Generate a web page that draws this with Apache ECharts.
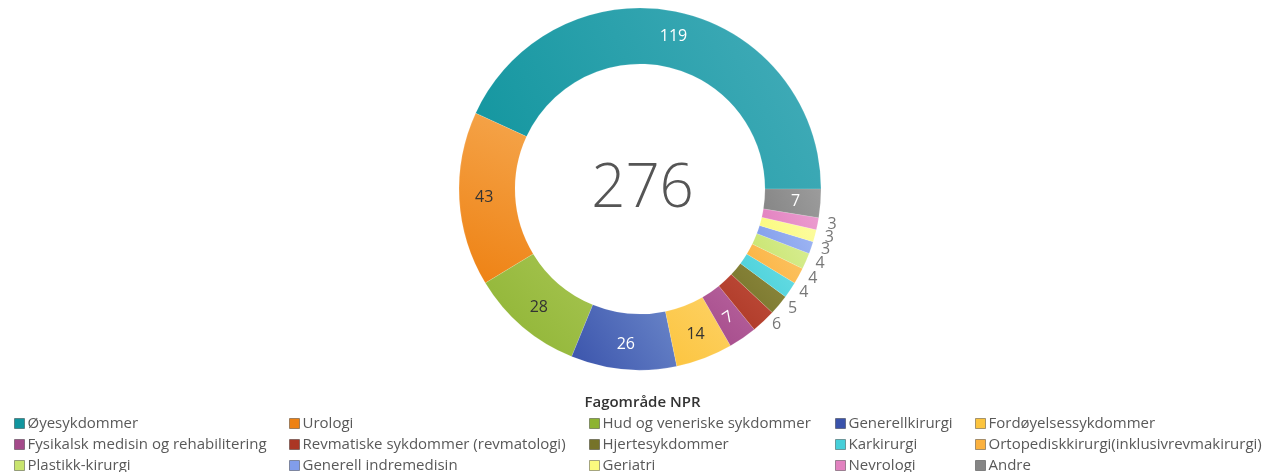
<!DOCTYPE html>
<html><head><meta charset="utf-8">
<script src="https://cdn.jsdelivr.net/npm/echarts@6/dist/echarts.min.js"></script>
<style>html,body{margin:0;padding:0;background:#fff}#c{width:1285px;height:472px}</style>
</head><body><div id="c"></div>
<script>
const categories = ["Øyesykdommer","Urologi","Hud og veneriske sykdommer","Generellkirurgi","Fordøyelsessykdommer","Fysikalsk medisin og rehabilitering","Revmatiske sykdommer (revmatologi)","Hjertesykdommer","Karkirurgi","Ortopediskkirurgi(inklusivrevmakirurgi)","Plastikk-kirurgi","Generell indremedisin","Geriatri","Nevrologi","Andre"];
const values = [119,43,28,26,14,7,6,5,4,4,4,3,3,3,7];
const colorsDark = ["#11959e","#ee8112","#8db332","#3a53ab","#fcc43e","#a44a8a","#ab3624","#767329","#46cfd9","#fbb13e","#c8e46e","#819deb","#fbfa7e","#e282c0","#858585"];
const colorsLight = ["#45adba","#f5a64d","#a7c552","#6a86c9","#fdd266","#b8649e","#c04e3c","#8e8a40","#6adde4","#fcc566","#d8ee94","#9fb6f3","#fcfca0","#ec9dd0","#9c9c9c"];
const labelColors = ["#fff","#333","#333","#fff","#333","#fff","#777","#777","#777","#777","#777","#777","#777","#777","#fff"];
const total = 276;
const legendColumns = [
  ["Øyesykdommer","Fysikalsk medisin og rehabilitering","Plastikk-kirurgi"],
  ["Urologi","Revmatiske sykdommer (revmatologi)","Generell indremedisin"],
  ["Hud og veneriske sykdommer","Hjertesykdommer","Geriatri"],
  ["Generellkirurgi","Karkirurgi","Nevrologi"],
  ["Fordøyelsessykdommer","Ortopediskkirurgi(inklusivrevmakirurgi)","Andre"]
];
const legendTitle = "Fagområde NPR";

const chart = echarts.init(document.getElementById('c'), null, {renderer:'canvas'});
const font = "'Open Sans', 'Noto Sans', sans-serif";
const legendLefts = [14, 289, 589, 835, 975];

const data = categories.map((name, i) => {
  const inside = values[i] >= 7;
  const d = {
    name, value: values[i],
    itemStyle: {
      color: new echarts.graphic.LinearGradient(0, 1, 1, 0, [
        {offset: 0, color: colorsDark[i]}, {offset: 1, color: colorsLight[i]}
      ]),
      borderColor: 'rgba(255,255,255,0.25)', borderWidth: 0.5
    },
    label: {
      position: inside ? 'inside' : 'outside',
      color: labelColors[i],
      fontSize: 16
    },
    labelLine: {show: false, length: 5, length2: 0}
  };
  if (name === "Fysikalsk medisin og rehabilitering") d.label.rotate = 'tangential';
  return d;
});

const legends = legendColumns.map((col, k) => ({
  orient: 'vertical',
  left: legendLefts[k],
  top: 416,
  height: 60,
  data: col.map(n => ({name: n, itemStyle: {color: colorsDark[categories.indexOf(n)], borderColor: 'rgba(0,0,0,0.35)', borderWidth: 1}})),
  icon: 'rect',
  itemWidth: 10,
  itemHeight: 10,
  itemGap: 6,
  selectedMode: false,
  textStyle: {fontFamily: font, fontSize: 15, color: '#595959', lineHeight: 14, padding: [0,0,0,-2]},
  padding: 0
}));

chart.setOption({
  color: colorsDark,
  animation: false,
  title: [
    {text: legendTitle, left: 'center', top: 395, padding: 0,
     textStyle: {fontFamily: font, fontSize: 15, fontWeight: 600, color: '#333'}},
    {text: String(total), left: 'center', top: 160, padding: 0,
     textStyle: {fontFamily: font, fontSize: 60, fontWeight: 300, color: '#555'}}
  ],
  legend: legends,
  series: [{
    type: 'pie',
    center: [640, 189],
    radius: [125, 181],
    startAngle: 0,
    clockwise: false,
    avoidLabelOverlap: false,
    labelLayout: {hideOverlap: false},
    label: {show: true, formatter: '{c}', fontFamily: font, fontSize: 16},
    emphasis: {disabled: true},
    data
  }]
});
</script></body></html>
